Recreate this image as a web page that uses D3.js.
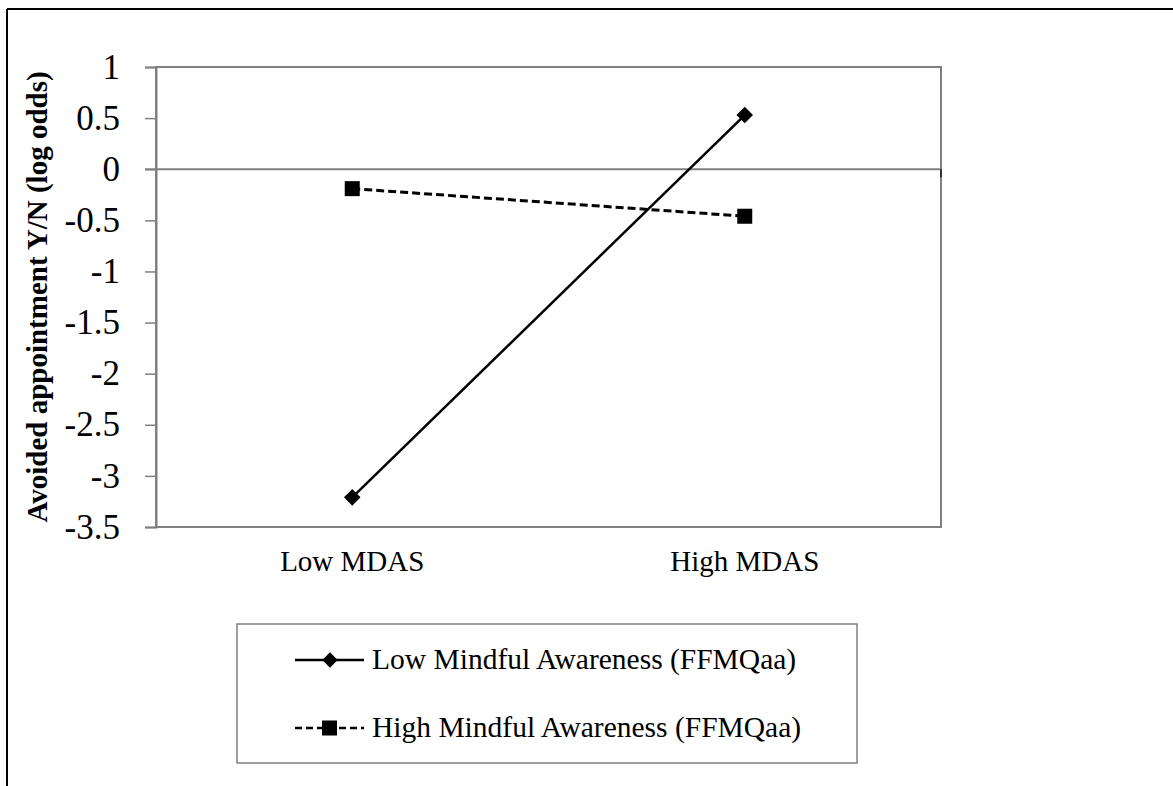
<!DOCTYPE html>
<html>
<head>
<meta charset="utf-8">
<script src="https://cdn.jsdelivr.net/npm/d3@7"></script>
<style>
  html, body { margin: 0; padding: 0; background: #fff; }
  svg { display: block; }
  text { font-family: "Liberation Serif", "Times New Roman", serif; fill: #000; }
</style>
</head>
<body>
<svg id="chart" width="1173" height="786"></svg>
<script>
// ---- data ----
const categories = ["Low MDAS", "High MDAS"];
const seriesNames = ["Low Mindful Awareness (FFMQaa)", "High Mindful Awareness (FFMQaa)"];
const lowAwareness = [-3.21, 0.53];
const highAwareness = [-0.19, -0.46];
const yTicks = [1, 0.5, 0, -0.5, -1, -1.5, -2, -2.5, -3, -3.5];
const yTickLabels = ["1", "0.5", "0", "-0.5", "-1", "-1.5", "-2", "-2.5", "-3", "-3.5"];
const yTitle = "Avoided appointment Y/N (log odds)";

const svg = d3.select("#chart");
const plot = { left: 156, right: 941, top: 67, bottom: 527 };

// outer frame (top and left edges)
svg.append("line").attr("x1", 7).attr("y1", 9).attr("x2", 1173).attr("y2", 9)
  .attr("stroke", "#000").attr("stroke-width", 2);
svg.append("line").attr("x1", 7).attr("y1", 9).attr("x2", 7).attr("y2", 786)
  .attr("stroke", "#000").attr("stroke-width", 2);

const x = d3.scalePoint().domain(categories).range([plot.left, plot.right]).padding(0.5);
const y = d3.scaleLinear().domain([-3.5, 1]).range([plot.bottom, plot.top]);

// plot area border
svg.append("rect")
  .attr("x", plot.left).attr("y", plot.top)
  .attr("width", plot.right - plot.left).attr("height", plot.bottom - plot.top)
  .attr("fill", "none").attr("stroke", "#808080").attr("stroke-width", 2);

// y axis
const yAxis = d3.axisLeft(y)
  .tickValues(yTicks)
  .tickSize(11)
  .tickPadding(25)
  .tickFormat((d, i) => yTickLabels[i]);
const gy = svg.append("g").attr("transform", `translate(${plot.left},0)`).call(yAxis);
gy.attr("font-family", null);
gy.select(".domain").attr("stroke", "#808080").attr("stroke-width", 2);
gy.selectAll(".tick line").attr("stroke", "#808080").attr("stroke-width", 1.5);
gy.selectAll(".tick text")
  .style("font-family", '"Liberation Serif", "Times New Roman", serif')
  .style("font-size", "35px").attr("fill", "#000");

// zero line (category axis)
svg.append("line")
  .attr("x1", plot.left - 11).attr("x2", plot.right)
  .attr("y1", y(0)).attr("y2", y(0))
  .attr("stroke", "#808080").attr("stroke-width", 2);
svg.append("line")
  .attr("x1", plot.right).attr("x2", plot.right)
  .attr("y1", y(0)).attr("y2", y(0) + 8)
  .attr("stroke", "#333").attr("stroke-width", 2);

// category labels
svg.selectAll(".cat").data(categories).enter().append("text")
  .attr("class", "cat")
  .attr("x", d => x(d)).attr("y", 571)
  .attr("text-anchor", "middle")
  .style("font-size", "29px")
  .text(d => d);

// y title
svg.append("text")
  .attr("transform", `translate(47,${(plot.top + plot.bottom) / 2}) rotate(-90)`)
  .attr("text-anchor", "middle")
  .style("font-size", "29px").style("font-weight", "bold")
  .text(yTitle);

// series
const line = d3.line().x((d, i) => x(categories[i])).y(d => y(d));
const diamond = d3.symbol().type(d3.symbolDiamond2).size(175);

svg.append("path").datum(highAwareness)
  .attr("d", line).attr("fill", "none")
  .attr("stroke", "#000").attr("stroke-width", 3).attr("stroke-dasharray", "8,4");
svg.append("path").datum(lowAwareness)
  .attr("d", line).attr("fill", "none")
  .attr("stroke", "#000").attr("stroke-width", 2.5);

svg.selectAll(".sq").data(highAwareness).enter().append("rect")
  .attr("class", "sq")
  .attr("x", (d, i) => x(categories[i]) - 7.5).attr("y", d => y(d) - 7.5)
  .attr("width", 15).attr("height", 15).attr("fill", "#000");

svg.selectAll(".dm").data(lowAwareness).enter().append("path")
  .attr("class", "dm")
  .attr("transform", (d, i) => `translate(${x(categories[i])},${y(d)})`)
  .attr("d", diamond).attr("fill", "#000");

// legend
const lg = svg.append("g");
lg.append("rect").attr("x", 237).attr("y", 624).attr("width", 620).attr("height", 139)
  .attr("fill", "#fff").attr("stroke", "#808080").attr("stroke-width", 1.5);
const rows = [660, 728];
// row 1: solid + diamond
lg.append("line").attr("x1", 295).attr("x2", 364).attr("y1", rows[0]).attr("y2", rows[0])
  .attr("stroke", "#000").attr("stroke-width", 2.5);
lg.append("path").attr("transform", `translate(330,${rows[0]})`)
  .attr("d", d3.symbol().type(d3.symbolDiamond2).size(150)).attr("fill", "#000");
// row 2: dashed + square
lg.append("line").attr("x1", 295).attr("x2", 364).attr("y1", rows[1]).attr("y2", rows[1])
  .attr("stroke", "#000").attr("stroke-width", 2.5).attr("stroke-dasharray", "7,4");
lg.append("rect").attr("x", 322).attr("y", rows[1] - 7.5).attr("width", 15).attr("height", 15)
  .attr("fill", "#000");
lg.selectAll(".lt").data(seriesNames).enter().append("text")
  .attr("class", "lt")
  .attr("x", 372).attr("y", (d, i) => rows[i] + 9)
  .style("font-size", "29.5px")
  .text(d => d);
</script>
</body>
</html>
